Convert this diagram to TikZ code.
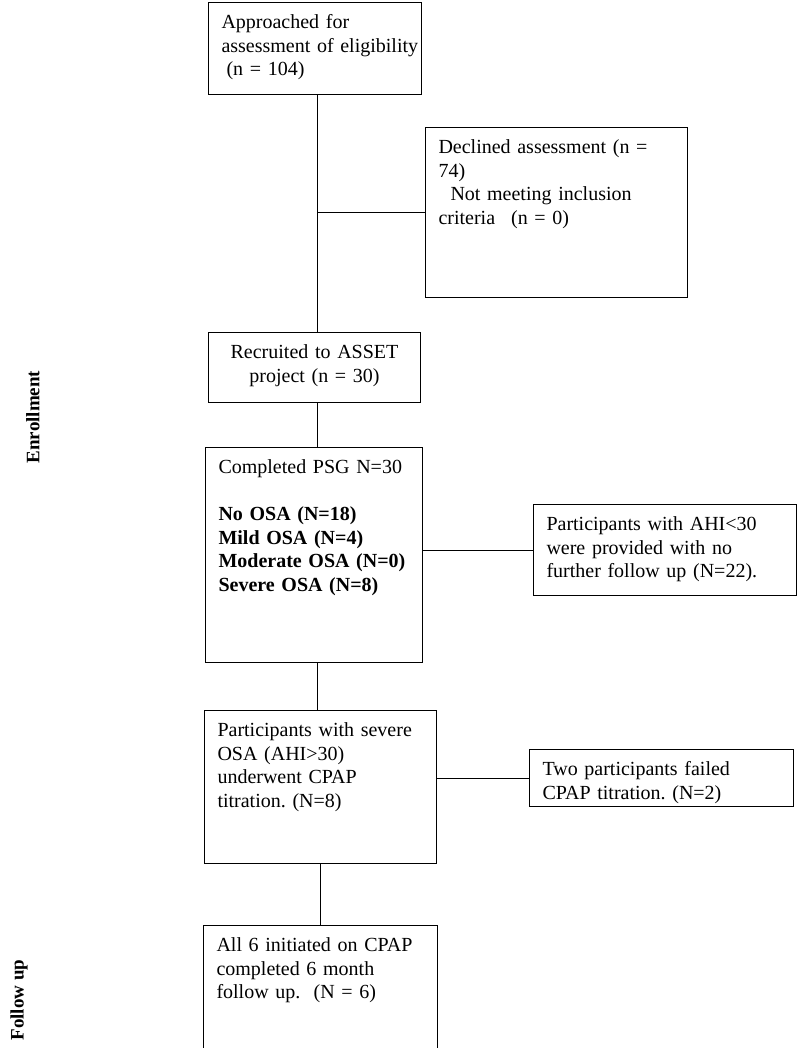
\documentclass[tikz,border=0pt]{standalone}
\usepackage{fontspec}
\setmainfont{Liberation Serif}
\usetikzlibrary{positioning}

\begin{document}
\begin{tikzpicture}[
    x=1bp, y=-1bp,
    FBox/.style={
        draw,
        line width=1bp,
        anchor=north west,
        align=left,
        inner xsep=13bp,
        inner ysep=0bp,
        text height=26bp,
        font=\fontsize{20bp}{23.5bp}\selectfont\frenchspacing
    },
    Side/.style={
        rotate=90,
        font=\fontsize{19bp}{22bp}\selectfont\bfseries
    },
    Link/.style={
        line width=1bp
    }
    ]
    \useasboundingbox (0,0) rectangle (797,1048);
    \coordinate (spine) at (317,0);
    \coordinate (spinelow) at (320,0);

    \node[FBox,text width=187bp,text depth=66bp] (approached) at (208,2) {Approached for\\\mbox{assessment of eligibility}\\\hspace*{5bp}(n = 104)};
    \node[FBox,text width=186bp,text depth=44bp,align=center] (recruited) [below=237bp of approached.south west,anchor=north west] {Recruited to ASSET\\project (n = 30)};
    \node[FBox,text width=191bp,text depth=189bp] (psg) [below=44bp of recruited.south west,anchor=north west,xshift=-3bp] {Completed PSG N=30\\[23.5bp]\textbf{No OSA (N=18)}\\\textbf{Mild OSA (N=4)}\\\textbf{Moderate OSA (N=0)}\\\textbf{Severe OSA (N=8)}};
    \node[FBox,text width=206bp,text depth=127bp] (severe) [below=47bp of psg.south west,anchor=north west,xshift=-1bp] {Participants with severe\\OSA (AHI>30)\\underwent CPAP\\titration. (N=8)};
    \node[FBox,text width=208bp,text depth=98bp] (allsix) [below=61bp of severe.south west,anchor=north west,xshift=-1bp] {All 6 initiated on CPAP\\completed 6 month\\follow up.\ \ (N = 6)};

    \node[FBox,text width=236bp,text depth=144bp] (declined) at (425,127) {Declined assessment (n =\\74)\\\hspace*{12bp}Not meeting inclusion\\criteria\hspace{16bp}(n = 0)};
    \node[FBox,text width=237bp,text depth=65bp] (ahi) at (533,504) {Participants with AHI<30\\were provided with no\\further follow up (N=22).};
    \node[FBox,text width=238bp,text depth=31bp] (failed) at (529,749) {Two participants failed\\CPAP titration. (N=2)};

    \node[Side] (enrol) at (33,417) {Enrollment};
    \node[Side] (follow) at (19,1000) {Follow up};

    \path[Link]
    (approached.south -| spine) edge (recruited.north -| spine)
    (declined.west -| spine) edge (declined.west)
    (recruited.south -| spine) edge (psg.north -| spine)
    (psg.east |- ahi.west) edge (ahi.west)
    (psg.south -| spine) edge (severe.north -| spine)
    (severe.east |- failed.west) edge (failed.west)
    (severe.south -| spinelow) edge (allsix.north -| spinelow);
\end{tikzpicture}
\end{document}
